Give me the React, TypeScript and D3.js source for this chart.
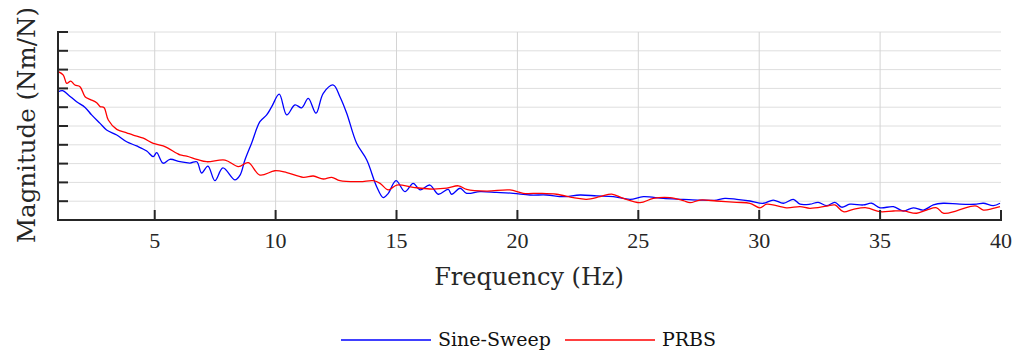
import React from "react";
import * as d3 from "d3";

const xTicks = [5, 10, 15, 20, 25, 30, 35, 40];
const yTicks = [0, 1, 2, 3, 4, 5, 6, 7, 8, 9, 10];
const seriesNames = ["Sine-Sweep", "PRBS"];
const seriesColors = ["#0000ff", "#ff0000"];

const sineFreq = [1.01,1.19,1.43,1.77,2.12,2.39,2.74,3.01,3.43,3.84,4.25,4.67,4.94,5.08,5.35,5.63,6.05,6.46,6.74,6.94,7.2,7.49,7.82,8.32,8.53,8.73,9.01,9.35,9.63,9.84,10.15,10.46,10.8,11.08,11.35,11.67,11.97,12.39,12.66,12.94,13.35,13.77,14.18,14.45,14.66,14.98,15.35,15.69,15.97,16.38,16.73,17.14,17.28,17.63,17.9,18.45,19.14,19.83,20.52,21.21,21.9,22.59,23.28,23.97,24.66,25.21,26.03,26.86,27.55,28.24,28.58,29.07,29.62,30.17,30.58,31.0,31.41,31.69,32.1,32.44,32.79,33.13,33.41,33.75,34.3,34.65,35.0,35.55,35.96,36.37,36.79,37.2,37.61,38.3,38.99,39.27,39.68,39.96];
const sineMag = [6.82,6.88,6.65,6.29,5.99,5.59,5.14,4.79,4.52,4.16,3.94,3.67,3.37,3.58,3.02,3.23,3.1,3.03,3.1,2.5,2.87,2.09,2.77,2.13,2.39,3.19,4.1,5.23,5.59,6.03,6.69,5.59,6.12,5.97,6.47,5.68,6.74,7.18,6.56,5.68,4.08,3.19,1.77,1.19,1.42,2.09,1.51,1.95,1.6,1.86,1.37,1.63,1.37,1.69,1.42,1.51,1.47,1.42,1.33,1.33,1.24,1.33,1.28,1.24,1.1,1.24,1.15,1.1,1.06,1.06,1.15,1.1,1.01,0.89,1.06,0.89,1.1,0.84,0.84,0.94,0.76,0.94,0.68,0.84,0.8,0.89,0.65,0.71,0.48,0.65,0.53,0.8,0.89,0.84,0.84,0.89,0.76,0.89];

const prbsFreq = [1.01,1.22,1.36,1.53,1.7,1.91,2.12,2.32,2.6,2.74,2.9,3.08,3.43,3.84,4.11,4.53,4.94,5.35,5.91,6.05,6.32,6.74,7.15,7.91,8.46,8.87,9.35,9.97,10.46,11.14,11.56,11.97,12.32,12.66,13.49,14.04,14.32,14.66,15.01,15.69,16.38,17.08,17.56,17.9,18.73,19.69,20.24,20.93,21.62,22.31,22.86,23.42,23.9,24.38,25.07,25.62,26.31,26.86,27.14,27.55,28.24,29.07,29.62,30.03,30.31,31.13,31.69,32.1,32.79,33.13,33.48,33.89,34.44,35.0,35.55,35.96,36.51,36.92,37.34,37.61,38.16,38.71,38.99,39.27,39.68,39.96];
const prbsMag = [7.89,7.71,7.27,7.39,7.18,7.09,6.56,6.42,6.24,6.03,5.99,5.32,4.82,4.64,4.52,4.35,4.08,3.94,3.55,3.46,3.4,3.23,3.1,3.19,2.84,3.05,2.39,2.62,2.52,2.27,2.34,2.18,2.27,2.09,2.04,2.09,1.95,1.6,1.86,1.74,1.65,1.69,1.82,1.63,1.54,1.6,1.42,1.42,1.37,1.19,1.1,1.24,1.38,1.15,0.92,1.15,1.19,1.03,0.92,1.06,1.01,0.94,0.89,0.65,0.84,0.65,0.71,0.62,0.74,0.8,0.44,0.57,0.65,0.44,0.48,0.48,0.36,0.53,0.65,0.36,0.49,0.71,0.74,0.53,0.62,0.71];

const W = 1025;
const H = 351;
const left = 58, right = 1001, top = 32, bottom = 220;
const FONT = "'DejaVu Serif', serif";
const TICKFONT = "'Liberation Serif', serif";

export default function App() {
  const x = d3.scaleLinear().domain([1, 40]).range([left, right]);
  const y = d3.scaleLinear().domain([0, 10]).range([bottom, top]);
  const line = d3
    .line<[number, number]>()
    .x((d) => x(d[0]))
    .y((d) => y(d[1]))
    .curve(d3.curveCatmullRom.alpha(0.5));
  const series = [
    sineFreq.map((f, i) => [f, sineMag[i]] as [number, number]),
    prbsFreq.map((f, i) => [f, prbsMag[i]] as [number, number]),
  ];
  const axisColor = "#262626";
  const legendItems = [
    { x0: 341, x1: 431, tx: 438 },
    { x0: 565, x1: 655, tx: 662 },
  ];
  return (
    <svg
      width={W}
      height={H}
      style={{ position: "absolute", left: 0, top: 0, background: "#fff" }}
    >
      {yTicks.slice(1).map((t) => (
        <line key={"gy" + t} x1={left} x2={right} y1={y(t)} y2={y(t)} stroke="#dedede" strokeWidth={1} />
      ))}
      {xTicks.slice(0, -1).map((t) => (
        <line key={"gx" + t} x1={x(t)} x2={x(t)} y1={top} y2={bottom} stroke="#d4d4d4" strokeWidth={1} />
      ))}
      {series.map((s, i) => (
        <path key={i} d={line(s) || ""} fill="none" stroke={seriesColors[i]} strokeWidth={1.3} />
      ))}
      <line x1={left} x2={left} y1={top - 1} y2={bottom + 1} stroke={axisColor} strokeWidth={2} />
      <line x1={left - 1} x2={right + 1} y1={bottom} y2={bottom} stroke={axisColor} strokeWidth={2} />
      {yTicks.map((t) => (
        <line key={"ty" + t} x1={left} x2={left + 10} y1={y(t)} y2={y(t)} stroke={axisColor} strokeWidth={2} />
      ))}
      {xTicks.map((t) => (
        <g key={"tx" + t}>
          <line x1={x(t)} x2={x(t)} y1={bottom} y2={bottom - 10} stroke={axisColor} strokeWidth={2} />
          <text x={x(t)} y={248} textAnchor="middle" fontFamily={TICKFONT} fontSize={22} fill="#262626">
            {t}
          </text>
        </g>
      ))}
      <text x={529} y={285} textAnchor="middle" fontFamily={FONT} fontSize={24} fill="#262626">
        Frequency (Hz)
      </text>
      <text
        transform={`translate(35, 125) rotate(-90)`}
        textAnchor="middle"
        fontFamily={FONT}
        fontSize={24.5}
        fill="#262626"
      >
        Magnitude (Nm/N)
      </text>
      {legendItems.map((l, i) => (
        <g key={"lg" + i}>
          <line x1={l.x0} x2={l.x1} y1={340} y2={340} stroke={seriesColors[i]} strokeWidth={1.3} />
          <text x={l.tx} y={346} fontFamily={FONT} fontSize={19} fill="#111">
            {seriesNames[i]}
          </text>
        </g>
      ))}
    </svg>
  );
}
